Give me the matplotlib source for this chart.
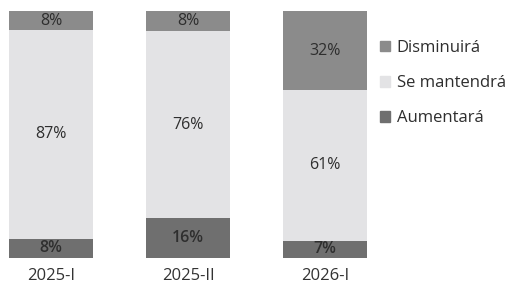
import matplotlib
matplotlib.use("Agg")
import matplotlib.pyplot as plt
import numpy as np
from matplotlib.patches import Patch

categories = ["2025-I", "2025-II", "2026-I"]
aumentara = [8, 16, 7]
se_mantendra = [87, 76, 61]
disminuira = [8, 8, 32]

c_aum = "#6f6f6f"
c_man = "#e3e3e5"
c_dis = "#8b8b8b"

plt.rcParams['font.family'] = ['Open Sans', 'DejaVu Sans']

fig = plt.figure(figsize=(5.17, 2.94), dpi=100)
ax = fig.add_axes([0, 36/294, 375/517, 247/294])

a = np.array(aumentara, float)
m = np.array(se_mantendra, float)
d = np.array(disminuira, float)
tot = a + m + d
an, mn, dn = a / tot * 100, m / tot * 100, d / tot * 100

x = np.arange(len(categories))
w = 0.61
ax.bar(x, an, w, color=c_aum)
ax.bar(x, mn, w, bottom=an, color=c_man)
ax.bar(x, dn, w, bottom=an + mn, color=c_dis)

fs = 11.5
for i in range(len(x)):
    ax.text(x[i], an[i] / 2, f"{aumentara[i]}%", ha="center", va="center", fontsize=fs, color="#2e2e2e", fontweight="semibold")
    ax.text(x[i], an[i] + mn[i] / 2, f"{se_mantendra[i]}%", ha="center", va="center", fontsize=fs, color="#2e2e2e")
    ax.text(x[i], an[i] + mn[i] + dn[i] / 2, f"{disminuira[i]}%", ha="center", va="center", fontsize=fs, color="#2e2e2e")

ax.set_xlim(-51/137, 2 + 50/137)
ax.set_ylim(0, 100)
ax.set_xticks(x)
ax.set_xticklabels(categories, fontsize=12, color="#333333")
ax.tick_params(axis="x", length=0, pad=7)
ax.set_yticks([])
for s in ax.spines.values():
    s.set_visible(False)

handles = [Patch(color=c_dis, label="Disminuirá"),
           Patch(color=c_man, label="Se mantendrá"),
           Patch(color=c_aum, label="Aumentará")]
fig.legend(handles=handles, loc="upper left", bbox_to_anchor=(365/517, 1 - 25/294),
           frameon=False, fontsize=12, handlelength=0.6, handleheight=0.6,
           handletextpad=0.4, labelspacing=1.15, labelcolor="#2e2e2e")

fig.savefig("out.png", dpi=100)
